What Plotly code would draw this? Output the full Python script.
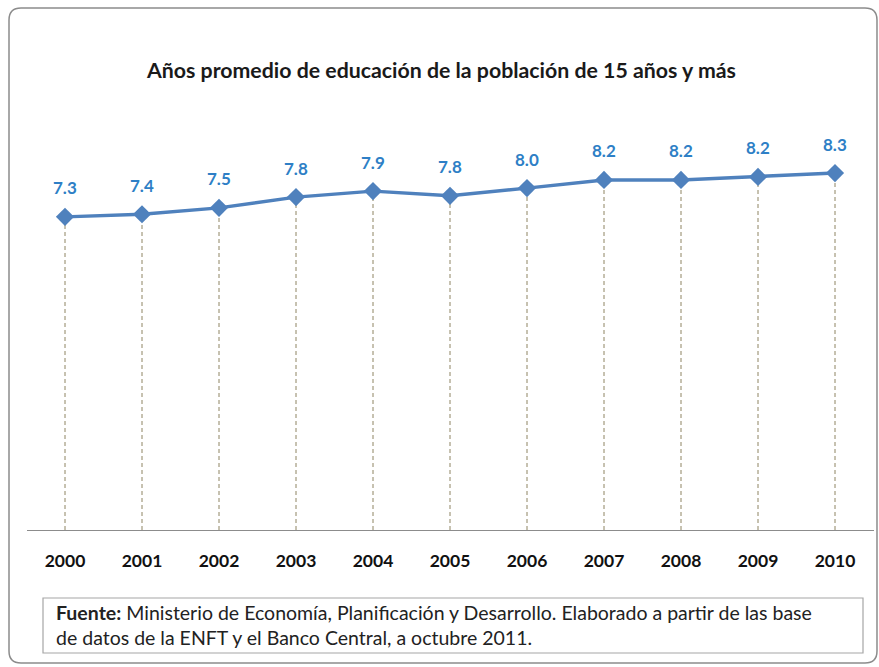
import plotly.graph_objects as go

years = ["2000", "2001", "2002", "2003", "2004", "2005", "2006", "2007", "2008", "2009", "2010"]
values = [7.30, 7.36, 7.51, 7.76, 7.90, 7.79, 7.97, 8.16, 8.16, 8.23, 8.32]
title_text = "Años promedio de educación de la población de 15 años y más"
source_text = ("<b>Fuente:</b> Ministerio de Economía, Planificación y Desarrollo. Elaborado a partir de las base"
               "<br>de datos de la ENFT y el Banco Central, a octubre 2011.")

W, H = 879, 667
FONT = "Lato"

def px(x):
    return x / W

def py(y):
    return 1 - y / H

xs = list(range(len(years)))

# drop lines
dx, dy = [], []
for i, v in zip(xs, values):
    dx += [i, i, None]
    dy += [0, v, None]

fig = go.Figure()
fig.add_trace(go.Scatter(x=dx, y=dy, mode="lines",
                         line=dict(color="#8E8462", width=1, dash="4px,3px"),
                         hoverinfo="skip", showlegend=False))
fig.add_trace(go.Scatter(x=xs, y=values, mode="lines+markers",
                         line=dict(color="#4F81BD", width=3.4),
                         marker=dict(symbol="diamond", size=14, color="#4F81BD"),
                         showlegend=False))

annotations = []
for i, v in zip(xs, values):
    annotations.append(dict(x=i, y=v, xref="x", yref="y", text=f"<b>{v:.1f}</b>",
                            showarrow=False, yshift=29,
                            font=dict(family=FONT, size=17, color="#2E7FC6")))

annotations.append(dict(x=px(441), y=py(70), xref="paper", yref="paper", text=f"<b>{title_text}</b>",
                        showarrow=False, xanchor="center", yanchor="middle",
                        font=dict(family=FONT, size=21.3, color="#1a1a1a")))
annotations.append(dict(x=px(54), y=py(625), xref="paper", yref="paper", text=source_text,
                        showarrow=False, xanchor="left", yanchor="middle", align="left",
                        font=dict(family=FONT, size=19.5, color="#222222")))

r = 12
x0, x1, y0, y1 = 9, 877, 8, 663
pathpx = (f"M {x0+r},{y0} L {x1-r},{y0} Q {x1},{y0} {x1},{y0+r} L {x1},{y1-r} Q {x1},{y1} {x1-r},{y1} "
          f"L {x0+r},{y1} Q {x0},{y1} {x0},{y1-r} L {x0},{y0+r} Q {x0},{y0} {x0+r},{y0} Z")

def conv(path):
    out = []
    for tok in path.split(" "):
        if "," in tok:
            a, b = tok.split(",")
            out.append(f"{px(float(a)):.5f},{py(float(b)):.5f}")
        else:
            out.append(tok)
    return " ".join(out)

shapes = [
    dict(type="path", xref="paper", yref="paper", path=conv(pathpx),
         line=dict(color="#8C8C8C", width=1.5), fillcolor="rgba(0,0,0,0)", layer="below"),
    dict(type="rect", xref="paper", yref="paper", x0=px(43), x1=px(863), y0=py(598), y1=py(653),
         line=dict(color="#A6A6A6", width=1.2), fillcolor="white"),
]

fig.update_layout(
    width=W, height=H, margin=dict(l=0, r=0, t=0, b=0),
    paper_bgcolor="white", plot_bgcolor="white",
    annotations=annotations, shapes=shapes,
    xaxis=dict(domain=[px(26.5), px(873.5)], range=[-0.5, len(years) - 0.5],
               tickmode="array", tickvals=xs, ticktext=[f"<b>{y}</b>" for y in years],
               tickfont=dict(family=FONT, size=17.5, color="#111111"),
               showline=True, linecolor="#8C8C8C", linewidth=1.2,
               ticks="outside", ticklen=15, tickcolor="rgba(0,0,0,0)",
               showgrid=False, zeroline=False, fixedrange=True),
    yaxis=dict(domain=[py(530), py(101)], range=[0, 10], visible=False,
               showgrid=False, zeroline=False, fixedrange=True),
)

fig.write_html("out.html", config={"displayModeBar": False},
               post_script="document.body.style.margin='0';")
